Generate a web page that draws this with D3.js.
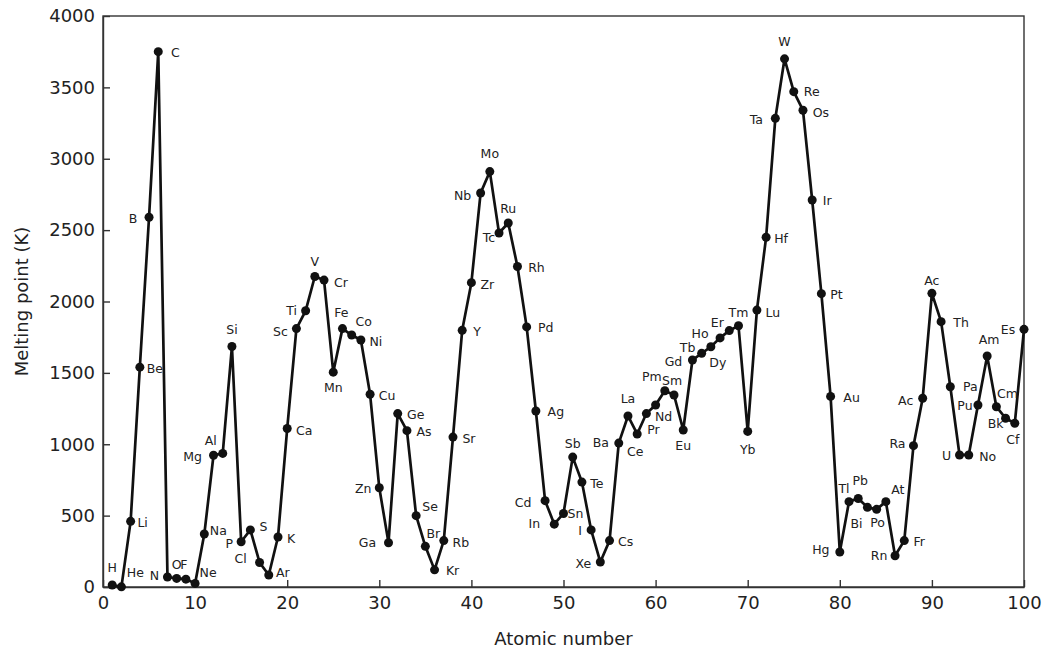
<!DOCTYPE html>
<html>
<head>
<meta charset="utf-8">
<script src="https://cdn.jsdelivr.net/npm/d3@7"></script>
<style>
  html, body { margin: 0; padding: 0; background: #fff; }
  svg { display: block; }
  .axis text { font-family: "DejaVu Sans", sans-serif; font-size: 18px; fill: #222; }
  .axis path, .axis line { stroke: #333; stroke-width: 1.4; }
  .elabel { font-family: "DejaVu Sans", sans-serif; font-size: 12.5px; fill: #222; }
  .title { font-family: "DejaVu Sans", sans-serif; font-size: 18px; fill: #222; }
</style>
</head>
<body>
<svg id="chart" width="1045" height="648"></svg>
<script>
// ---- Data ----
const atomicNumbers = d3.range(1, 101);
const symbols = [
  "H","He","Li","Be","B","C","N","O","F","Ne",
  "Na","Mg","Al","Si","P","S","Cl","Ar","K","Ca",
  "Sc","Ti","V","Cr","Mn","Fe","Co","Ni","Cu","Zn",
  "Ga","Ge","As","Se","Br","Kr","Rb","Sr","Y","Zr",
  "Nb","Mo","Tc","Ru","Rh","Pd","Ag","Cd","In","Sn",
  "Sb","Te","I","Xe","Cs","Ba","La","Ce","Pr","Nd",
  "Pm","Sm","Eu","Gd","Tb","Dy","Ho","Er","Tm","Yb",
  "Lu","Hf","Ta","W","Re","Os","Ir","Pt","Au","Hg",
  "Tl","Pb","Bi","Po","At","Rn","Fr","Ra","Ac","Ac",
  "Th","Pa","U","No","Pu","Am","Cm","Bk","Cf","Es"
];
const meltingPoints = [
  14, 1, 460, 1540, 2590, 3750, 70, 60, 55, 25,
  371, 923, 936, 1685, 317, 400, 172, 84, 350, 1110,
  1810, 1935, 2175, 2150, 1505, 1810, 1765, 1730, 1350, 695,
  310, 1215, 1095, 500, 285, 120, 325, 1050, 1798, 2132,
  2760, 2910, 2480, 2550, 2245, 1822, 1233, 605, 440, 515,
  910, 735, 400, 175, 325, 1008, 1198, 1072, 1215, 1275,
  1375, 1345, 1100, 1590, 1637, 1683, 1745, 1796, 1830, 1090,
  1940, 2450, 3283, 3700, 3470, 3340, 2711, 2055, 1335, 245,
  598, 620, 558, 544, 598, 219, 325, 990, 1322, 2057,
  1859, 1403, 925, 925, 1275, 1618, 1263, 1182, 1147, 1805
];
const xTicks = [0, 10, 20, 30, 40, 50, 60, 70, 80, 90, 100];
const yTicks = [0, 500, 1000, 1500, 2000, 2500, 3000, 3500, 4000];
const xTitle = "Atomic number";
const yTitle = "Melting point (K)";

// ---- Layout: label offsets (label centre relative to point, px) ----
const labelOffsets = [
  [0,-18],[14,-14],[12,1],[15,1],[-16,1],[17,1],[-13,-2],[0,-14],[-2,-15],[13,-11],
  [14,-4],[-21,1],[-12,-13],[0,-17],[-12,2],[13,-3],[-19,-4],[14,-3],[13,1],[17,2],
  [-16,3],[-14,0],[0,-15],[17,2],[0,15],[-1,-16],[12,-14],[15,1],[17,1],[-16,1],
  [-21,0],[18,1],[17,1],[14,-9],[8,-13],[18,1],[17,2],[16,1],[15,1],[16,2],
  [-18,2],[0,-18],[-10,5],[0,-14],[19,1],[19,1],[20,1],[-22,2],[-20,-1],[12,0],
  [0,-14],[15,1],[-11,1],[-17,1],[16,1],[-18,-1],[0,-17],[-2,18],[7,16],[8,12],
  [-13,-14],[-2,-15],[0,16],[-19,1],[-14,-6],[7,16],[-20,-4],[-12,-8],[0,-13],[0,18],
  [16,2],[15,1],[-19,1],[0,-17],[18,0],[18,2],[15,0],[15,1],[21,1],[-19,-3],
  [-5,-13],[2,-18],[-11,16],[1,13],[12,-12],[-16,0],[15,1],[-16,-2],[-17,2],[0,-13],
  [20,1],[20,0],[-13,1],[19,2],[-13,1],[2,-17],[11,-13],[-10,5],[-2,16],[-16,0]
];

const svg = d3.select("#chart");
const margin = { left: 103, top: 16, right: 21, bottom: 61 };
const W = 1045, H = 648;
const x = d3.scaleLinear().domain([0, 100]).range([margin.left, W - margin.right]);
const y = d3.scaleLinear().domain([0, 4000]).range([H - margin.bottom, margin.top]);

const data = atomicNumbers.map((n, i) => ({ n, v: meltingPoints[i], s: symbols[i], off: labelOffsets[i] }));

// frame
svg.append("rect")
  .attr("x", x(0)).attr("y", y(4000))
  .attr("width", x(100) - x(0)).attr("height", y(0) - y(4000))
  .attr("fill", "none").attr("stroke", "#333").attr("stroke-width", 1.4);

// axes with inward ticks
svg.append("g").attr("class", "axis")
  .attr("transform", `translate(0,${y(0)})`)
  .call(d3.axisBottom(x).tickValues(xTicks).tickFormat(d3.format("d")).tickSizeInner(-7).tickSizeOuter(0).tickPadding(9));
svg.append("g").attr("class", "axis")
  .attr("transform", `translate(${x(0)},0)`)
  .call(d3.axisLeft(y).tickValues(yTicks).tickFormat(d3.format("d")).tickSizeInner(-7).tickSizeOuter(0).tickPadding(8));

// line
svg.append("path")
  .datum(data)
  .attr("fill", "none")
  .attr("stroke", "#111")
  .attr("stroke-width", 2.7)
  .attr("stroke-linejoin", "round")
  .attr("d", d3.line().x(d => x(d.n)).y(d => y(d.v)));

// points
svg.append("g").selectAll("circle")
  .data(data).join("circle")
  .attr("cx", d => x(d.n)).attr("cy", d => y(d.v))
  .attr("r", 4.5).attr("fill", "#111");

// element labels
svg.append("g").selectAll("text")
  .data(data).join("text")
  .attr("class", "elabel")
  .attr("x", d => x(d.n) + d.off[0])
  .attr("y", d => y(d.v) + d.off[1])
  .attr("text-anchor", "middle")
  .attr("dominant-baseline", "central")
  .text(d => d.s);

// titles
svg.append("text").attr("class", "title")
  .attr("x", (x(0) + x(100)) / 2).attr("y", 638)
  .attr("text-anchor", "middle").attr("dominant-baseline", "central")
  .text(xTitle);
svg.append("text").attr("class", "title")
  .attr("transform", `translate(21,${(y(0) + y(4000)) / 2}) rotate(-90)`)
  .attr("text-anchor", "middle").attr("dominant-baseline", "central")
  .text(yTitle);
</script>
</body>
</html>
